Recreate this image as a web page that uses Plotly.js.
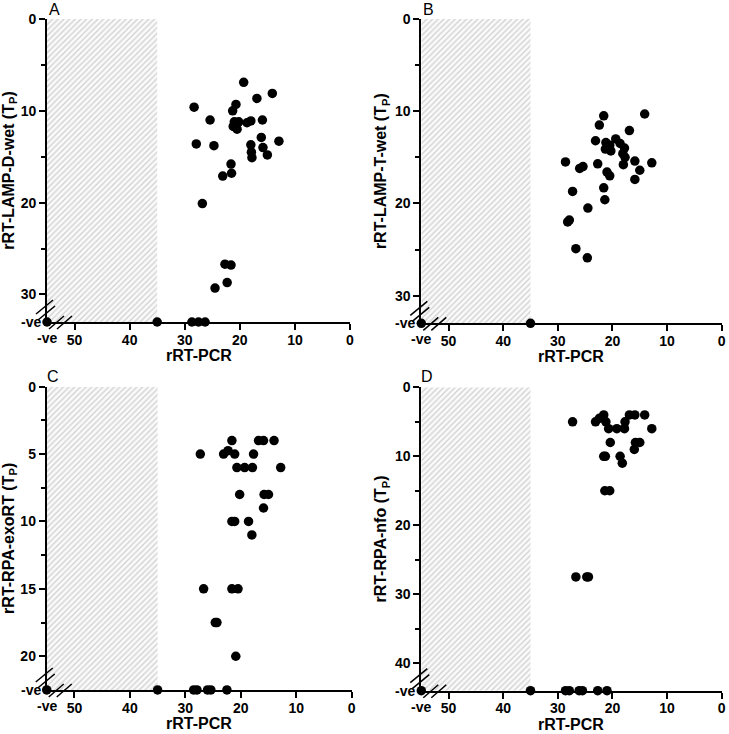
<!DOCTYPE html>
<html><head><meta charset="utf-8">
<script src="https://cdn.plot.ly/plotly-3.0.1.min.js"></script>
<style>html,body{margin:0;padding:0;background:#fff}#chart{width:729px;height:734px}</style>
</head><body><div id="chart"></div>
<script>
// ---- data ----
const NEG = '-ve';
const panelLetters = ['A', 'B', 'C', 'D'];
const xTitle = 'rRT-PCR';
const yTitles = [
  'rRT-LAMP-D-wet (T<sub>P</sub>)',
  'rRT-LAMP-T-wet (T<sub>P</sub>)',
  'rRT-RPA-exoRT (T<sub>P</sub>)',
  'rRT-RPA-nfo (T<sub>P</sub>)'
];
const xTickVals = [50, 40, 30, 20, 10, 0];
const yTickValsA = [0, 10, 20, 30];
const yTickValsB = [0, 10, 20, 30];
const yTickValsC = [0, 5, 10, 15, 20];
const yTickValsD = [0, 10, 20, 30, 40];
const yMinorA = [5, 15, 25];
const yMinorB = [5, 15, 25];
const yMinorC = [2.5, 7.5, 12.5, 17.5];
const yMinorD = [5, 15, 25, 35];
const shadedPCR = [NEG, 35];   // rRT-PCR span of the hatched region

const pcrA = [19.3,14.1,16.9,28.3,20.7,21.3,25.4,15.9,18.7,18.0,21.0,20.2,21.2,20.5,27.9,24.7,12.9,16.1,18.0,15.8,17.9,15.0,17.8,21.6,21.5,23.1,26.8,22.7,21.6,22.3,24.5,
              NEG,35,28.7,27.5,26.3];
const tpA  = [6.9,8.1,8.65,9.6,9.3,10.0,11.0,11.0,11.3,11.1,11.2,11.2,11.7,12.0,13.6,13.8,13.3,12.9,13.7,14.0,14.5,14.8,15.1,15.8,16.8,17.1,20.1,26.7,26.8,28.7,29.3,
              NEG,NEG,NEG,NEG,NEG];

const pcrB = [21.6,14.1,22.4,16.9,23.1,19.4,21.2,20.5,21.3,20.3,18.6,17.8,18.1,17.7,18.0,22.7,15.9,12.8,15.0,15.9,26.0,25.4,21.0,20.5,21.6,21.4,27.3,28.6,24.5,28.2,27.9,26.7,24.6,
              NEG,35];
const tpB  = [10.5,10.3,11.5,12.1,13.2,13.0,13.4,13.7,14.1,14.3,13.5,14.0,14.6,15.0,15.8,15.7,15.4,15.6,16.4,17.4,16.2,16.0,16.6,17.0,18.3,19.6,18.7,15.5,20.5,22.0,21.8,24.9,25.9,
              NEG,NEG];

const pcrC = [21.6,16.8,15.9,14.0,27.3,23.1,22.3,21.1,17.7,20.7,19.3,17.9,12.8,20.2,15.8,15.0,15.9,21.6,21.1,18.6,18.0,26.7,21.6,20.5,24.6,24.3,20.9,
              NEG,35,28.5,27.9,26.0,25.4,22.5];
const tpC  = [4,4,4,4,5,5,4.75,5,5,6,6,6,6,8,8,8,9,10,10,10,11,15,15,15,17.5,17.5,20,
              NEG,NEG,NEG,NEG,NEG,NEG,NEG];

const pcrD = [21.6,16.9,15.9,14.1,27.3,23.1,22.4,21.2,17.7,20.7,19.2,17.8,12.8,20.4,15.8,15.0,16.0,21.6,21.3,18.6,18.2,21.4,20.5,26.7,24.7,24.4,
              NEG,35,28.6,27.9,26.1,25.5,22.7,21.0];
const tpD  = [4,4,4,4,5,5,4.5,5,5,6,6,6,6,8,8,8,9,10,10,10,11,15,15,27.5,27.5,27.5,
              NEG,NEG,NEG,NEG,NEG,NEG,NEG,NEG];

// ---- layout helpers ----
const X_NEG = 55;                       // axis position of "-ve" on rRT-PCR axes
const Y_NEG = [33, 33, 22.5, 44];       // axis position of "-ve" on each TP axis
const xDomains = [[0.0645, 0.4801], [0.5779, 0.9900], [0.0641, 0.4824], [0.5779, 0.9900]];
const yDomains = [[0.5613, 0.9741], [0.5595, 0.9741], [0.0600, 0.4732], [0.0590, 0.4723]];
const letterPos = [[54, 9], [428, 9], [53, 376], [427, 376]];
const panels = [
  {pcr: pcrA, tp: tpA, ticks: yTickValsA, minor: yMinorA},
  {pcr: pcrB, tp: tpB, ticks: yTickValsB, minor: yMinorB},
  {pcr: pcrC, tp: tpC, ticks: yTickValsC, minor: yMinorC},
  {pcr: pcrD, tp: tpD, ticks: yTickValsD, minor: yMinorD}
];

const FONT = 'Liberation Sans, Arial, Helvetica, sans-serif';
const W = 729, H = 734;
const traces = [];
const layout = {
  width: W, height: H,
  margin: {l: 0, r: 0, t: 0, b: 0},
  paper_bgcolor: '#fff', plot_bgcolor: 'rgba(0,0,0,0)',
  showlegend: false,
  font: {family: FONT, color: '#000', size: 14},
  annotations: [], shapes: []
};

panels.forEach((p, i) => {
  const n = i + 1;
  const xa = 'x' + (n === 1 ? '' : n), ya = 'y' + (n === 1 ? '' : n);
  const xKey = 'xaxis' + (n === 1 ? '' : n), yKey = 'yaxis' + (n === 1 ? '' : n);
  const yNeg = Y_NEG[i];
  const mapX = v => (v === NEG ? X_NEG : v);
  const mapY = v => (v === NEG ? yNeg : v);

  // hatched region
  const sx0 = mapX(shadedPCR[0]), sx1 = mapX(shadedPCR[1]);
  traces.push({
    type: 'scatter', mode: 'lines', xaxis: xa, yaxis: ya,
    x: [sx0, sx1, sx1, sx0, sx0], y: [0, 0, yNeg, yNeg, 0],
    fill: 'toself', line: {width: 0}, fillcolor: '#f4f4f4',
    fillpattern: {shape: '/', fgcolor: '#cfcfcf', bgcolor: '#fafafa', size: 4, solidity: 0.3},
    hoverinfo: 'skip'
  });
  // points
  traces.push({
    type: 'scatter', mode: 'markers', xaxis: xa, yaxis: ya,
    x: p.pcr.map(mapX), y: p.tp.map(mapY),
    marker: {size: 9.5, color: '#000'}, cliponaxis: false
  });

  layout[xKey] = {
    domain: xDomains[i], anchor: ya, range: [X_NEG, 0], autorange: false,
    tickvals: xTickVals, ticktext: xTickVals.map(String),
    ticks: 'outside', ticklen: 6, tickwidth: 2, tickcolor: '#000',
    ticklabelstandoff: -2,
    showline: true, linewidth: 2, linecolor: '#000',
    showgrid: false, zeroline: false,
    tickfont: {family: FONT, size: 14, weight: 'bold'}
  };
  layout[yKey] = {
    domain: yDomains[i], anchor: xa, range: [yNeg, 0], autorange: false,
    tickvals: p.ticks, ticktext: p.ticks.map(String),
    ticks: 'outside', ticklen: 6, tickwidth: 2, tickcolor: '#000',
    minor: {tickvals: p.minor, ticks: 'outside', ticklen: 4, tickwidth: 2, tickcolor: '#000'},
    showline: true, linewidth: 2, linecolor: '#000',
    showgrid: false, zeroline: false,
    tickfont: {family: FONT, size: 14, weight: 'bold'},
    title: {text: yTitles[i], font: {family: FONT, size: 16, weight: 'bold'}, standoff: 4}
  };

  // x-axis title
  layout.annotations.push({
    xref: xa + ' domain', yref: ya + ' domain', x: 0.5, y: 0, xanchor: 'center', yanchor: 'top',
    yshift: -24, borderpad: 0, text: xTitle, showarrow: false,
    font: {family: FONT, size: 16, weight: 'bold'}
  });
  // "-ve" labels
  layout.annotations.push({
    xref: xa, yref: ya + ' domain', x: X_NEG, y: 0, yanchor: 'top', xanchor: 'center',
    yshift: -6, text: NEG, showarrow: false, font: {family: FONT, size: 14, weight: 'bold'}
  });
  layout.annotations.push({
    xref: xa + ' domain', yref: ya, x: 0, y: yNeg, xanchor: 'right', yanchor: 'middle',
    xshift: -4, text: NEG, showarrow: false, font: {family: FONT, size: 14, weight: 'bold'}
  });
  // panel letter
  layout.annotations.push({
    xref: 'paper', yref: 'paper', x: letterPos[i][0] / W, y: 1 - letterPos[i][1] / H,
    xanchor: 'center', yanchor: 'middle', text: panelLetters[i], showarrow: false,
    font: {family: FONT, size: 16, weight: 'normal'}
  });

  // axis break marks
  const brk = (xr, yr, x0, y0, x1, y1) => ({
    type: 'line', xref: xr, yref: yr,
    xsizemode: 'pixel', ysizemode: 'pixel', xanchor: 0, yanchor: 0,
    x0, y0, x1, y1, line: {color: '#000', width: 1.5}
  });
  const xd = xa + ' domain', yd = ya + ' domain';
  layout.shapes.push(brk(xd, yd, -11, 8, 6, 22));
  layout.shapes.push(brk(xd, yd, -9, 2, 8, 16));
  layout.shapes.push(brk(xd, yd, 2, -7, 17, 6));
  layout.shapes.push(brk(xd, yd, 10, -7, 25, 6));
});

Plotly.newPlot('chart', traces, layout, {displayModeBar: false, staticPlot: true});
</script>
</body></html>
